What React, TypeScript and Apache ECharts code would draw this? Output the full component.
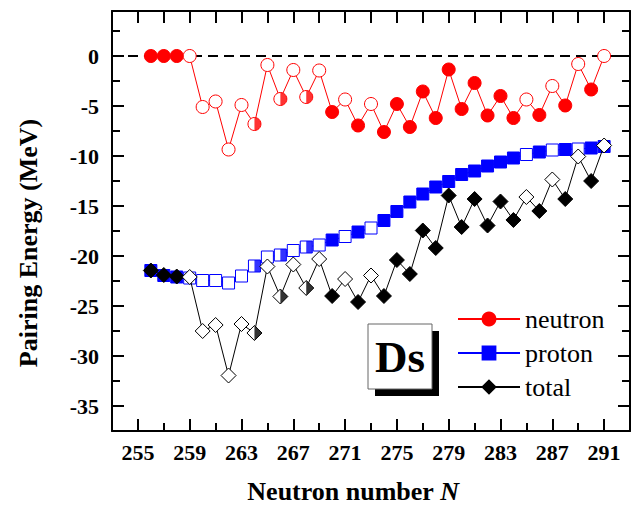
import React, { useEffect, useRef } from 'react';
import * as echarts from 'echarts';

const neutronNumbers = [256, 257, 258, 259, 260, 261, 262, 263, 264, 265, 266, 267, 268, 269, 270, 271, 272, 273, 274, 275, 276, 277, 278, 279, 280, 281, 282, 283, 284, 285, 286, 287, 288, 289, 290, 291];

const neutronPairing = [0, 0, 0, 0, -5.1, -4.55, -9.35, -4.9, -6.8, -0.9, -4.3, -1.4, -4.1, -1.45, -5.6, -4.35, -6.95, -4.8, -7.6, -4.8, -7.1, -3.55, -6.2, -1.35, -5.3, -2.7, -5.95, -4.0, -6.2, -4.35, -5.9, -3.0, -4.95, -0.8, -3.35, 0];
const protonPairing = [-21.45, -21.95, -22.1, -22.2, -22.45, -22.45, -22.7, -22.0, -21.0, -20.1, -19.9, -19.45, -19.1, -18.9, -18.4, -18.05, -17.6, -17.2, -16.45, -15.55, -14.6, -13.8, -13.1, -12.55, -11.85, -11.5, -11.0, -10.6, -10.2, -9.85, -9.6, -9.4, -9.35, -9.3, -9.2, -9.05];
const totalPairing = [-21.45, -21.9, -22.05, -22.1, -27.5, -26.9, -31.95, -26.8, -27.7, -21.05, -24.05, -20.85, -23.2, -20.3, -24.0, -22.3, -24.6, -21.95, -24.0, -20.4, -21.8, -17.45, -19.2, -13.95, -17.1, -14.3, -16.95, -14.55, -16.4, -14.1, -15.5, -12.35, -14.3, -10.05, -12.5, -8.95];

// f = filled, o = open, h = half filled (right half)
const neutronFill = ['f', 'f', 'f', 'o', 'o', 'o', 'o', 'o', 'h', 'o', 'h', 'o', 'h', 'o', 'f', 'o', 'f', 'o', 'f', 'f', 'f', 'f', 'f', 'f', 'f', 'f', 'f', 'f', 'f', 'o', 'f', 'o', 'f', 'o', 'f', 'o'];
const protonFill = ['f', 'f', 'f', 'o', 'o', 'o', 'o', 'o', 'h', 'o', 'h', 'o', 'h', 'o', 'f', 'o', 'f', 'o', 'f', 'f', 'f', 'f', 'f', 'f', 'f', 'f', 'f', 'f', 'f', 'o', 'f', 'o', 'f', 'o', 'f', 'f'];
const totalFill = ['f', 'f', 'f', 'o', 'o', 'o', 'o', 'o', 'h', 'o', 'h', 'o', 'h', 'o', 'f', 'o', 'f', 'o', 'f', 'f', 'f', 'f', 'f', 'f', 'f', 'f', 'f', 'f', 'f', 'o', 'f', 'o', 'f', 'o', 'f', 'o'];

const xLabelTicks = [255, 259, 263, 267, 271, 275, 279, 283, 287, 291];
const xMinorTicks = [257, 261, 265, 269, 273, 277, 281, 285, 289];
const xTopTicks = [255, 257, 259, 261, 263, 265, 267, 269, 271, 273, 275, 277, 279, 281, 283, 285, 287, 289, 291];
const yLabelTicks = [-35, -30, -25, -20, -15, -10, -5, 0];
const yMinorTicks = [-32.5, -27.5, -22.5, -17.5, -12.5, -7.5, -2.5, 2.5];
const zeroLine = [253, 293];

const SERIF = 'Liberation Serif';

function mainData(values: number[], fills: string[]) {
  return neutronNumbers.map((n, i) => {
    const item: any = { value: [n, values[i]] };
    if (fills[i] !== 'f') item.itemStyle = { color: '#ffffff' };
    return item;
  });
}
function halfData(values: number[], fills: string[]) {
  const out: number[][] = [];
  neutronNumbers.forEach((n, i) => {
    if (fills[i] === 'h') out.push([n, values[i]]);
  });
  return out;
}

export default function App() {
  const ref = useRef<HTMLDivElement>(null);
  useEffect(() => {
    if (!ref.current) return;
    const chart = echarts.init(ref.current, null, { renderer: 'svg' });
    const axisBase = {
      type: 'value',
      min: 253,
      max: 293,
      splitLine: { show: false },
    };
    const yBase = {
      type: 'value',
      min: -37.5,
      max: 4.5,
      splitLine: { show: false },
    };
    const lineAx = { show: true, onZero: false, lineStyle: { color: '#000', width: 2 } };
    const noLine = { show: false, onZero: false };
    const tickStyle = { color: '#000', width: 2 };

    chart.setOption({
      animation: false,
      textStyle: { fontFamily: SERIF },
      grid: { left: 112, right: 8, top: 11, bottom: 75, containLabel: false, outerBoundsMode: 'none' },
      xAxis: [
        {
          ...axisBase, position: 'bottom', axisLine: lineAx,
          axisTick: { show: true, inside: true, length: 12, lineStyle: tickStyle, customValues: xLabelTicks },
          axisLabel: {
            show: true, margin: 10, customValues: xLabelTicks,
            color: '#000', fontFamily: 'Times New Roman', fontWeight: 'bold', fontSize: 22,
          },
        },
        {
          ...axisBase, position: 'bottom', axisLine: noLine,
          axisTick: { show: true, inside: true, length: 8, lineStyle: tickStyle, customValues: xMinorTicks },
          axisLabel: { show: false },
        },
        {
          ...axisBase, position: 'top', axisLine: lineAx,
          axisTick: { show: true, inside: true, length: 12, lineStyle: tickStyle, customValues: xTopTicks },
          axisLabel: { show: false },
        },
      ],
      yAxis: [
        {
          ...yBase, position: 'left', axisLine: lineAx,
          axisTick: { show: true, inside: true, length: 12, lineStyle: tickStyle, customValues: yLabelTicks },
          axisLabel: {
            show: true, margin: 13, customValues: yLabelTicks,
            color: '#000', fontFamily: 'serif', fontWeight: 'bold', fontSize: 22,
          },
        },
        {
          ...yBase, position: 'left', axisLine: noLine,
          axisTick: { show: true, inside: true, length: 8, lineStyle: tickStyle, customValues: yMinorTicks },
          axisLabel: { show: false },
        },
        {
          ...yBase, position: 'right', axisLine: lineAx,
          axisTick: { show: true, inside: true, length: 12, lineStyle: tickStyle, customValues: yLabelTicks },
          axisLabel: { show: false },
        },
        {
          ...yBase, position: 'right', axisLine: noLine,
          axisTick: { show: true, inside: true, length: 8, lineStyle: tickStyle, customValues: yMinorTicks },
          axisLabel: { show: false },
        },
      ],
      legend: {
        data: ['neutron', 'proton', 'total'],
        orient: 'vertical',
        left: 452,
        top: 301,
        itemWidth: 62,
        itemHeight: 16,
        itemGap: 8,
        textStyle: { color: '#000', fontFamily: '"Liberation Serif", serif', fontSize: 26 },
        selectedMode: false,
      },
      graphic: [
        { type: 'rect', shape: { x: 375, y: 331, width: 64, height: 65 }, style: { fill: '#000' }, z: 10 },
        { type: 'rect', shape: { x: 368, y: 324, width: 64, height: 65 }, style: { fill: '#fff', stroke: '#666', lineWidth: 1 }, z: 11 },
        { type: 'text', x: 400, y: 357, style: { text: 'Ds', fontFamily: SERIF, fontWeight: 'bold', fontSize: 45, fill: '#000', textAlign: 'center', textVerticalAlign: 'middle' }, z: 12 },
        { type: 'text', x: 28, y: 243, rotation: Math.PI / 2, style: { text: 'Pairing Energy (MeV)', fontFamily: SERIF, fontWeight: 'bold', fontSize: 26, fill: '#000', textAlign: 'center', textVerticalAlign: 'middle' } },
        {
          type: 'text', x: 353, y: 491,
          style: {
            text: '{a|Neutron number }{b|N}',
            textAlign: 'center', textVerticalAlign: 'middle',
            rich: {
              a: { fontFamily: SERIF, fontWeight: 'bold', fontSize: 26, fill: '#000' },
              b: { fontFamily: SERIF, fontWeight: 'bold', fontStyle: 'italic', fontSize: 26, fill: '#000' },
            },
          },
        },
      ],
      series: [
        {
          name: 'zero', type: 'line', data: zeroLine.map((x) => [x, 0]), symbol: 'none', silent: true, z: 1,
          lineStyle: { color: '#000', width: 2, type: [10, 6] },
        },
        {
          name: 'neutron', type: 'line', data: mainData(neutronPairing, neutronFill), z: 2, silent: true,
          symbol: 'circle', symbolSize: 13,
          lineStyle: { color: '#ff0000', width: 1 },
          itemStyle: { color: '#ff0000', borderColor: '#ff0000', borderWidth: 1 },
        },
        {
          name: 'neutronHalf', type: 'scatter', data: halfData(neutronPairing, neutronFill), z: 3, silent: true,
          symbol: 'path://M0,0 A10,10 0 0 1 0,20 Z', symbolSize: [6.5, 13], symbolOffset: [3.25, 0],
          itemStyle: { color: '#ff0000' },
        },
        {
          name: 'proton', type: 'line', data: mainData(protonPairing, protonFill), z: 4, silent: true,
          symbol: 'rect', symbolSize: 12,
          lineStyle: { color: '#0000ff', width: 1 },
          itemStyle: { color: '#0000ff', borderColor: '#0000ff', borderWidth: 1 },
        },
        {
          name: 'protonHalf', type: 'scatter', data: halfData(protonPairing, protonFill), z: 5, silent: true,
          symbol: 'rect', symbolSize: [6, 12], symbolOffset: [3, 0],
          itemStyle: { color: '#0000ff' },
        },
        {
          name: 'total', type: 'line', data: mainData(totalPairing, totalFill), z: 6, silent: true,
          symbol: 'diamond', symbolSize: 15,
          lineStyle: { color: '#000000', width: 1 },
          itemStyle: { color: '#000000', borderColor: '#000000', borderWidth: 1 },
        },
        {
          name: 'totalHalf', type: 'scatter', data: halfData(totalPairing, totalFill), z: 7, silent: true,
          symbol: 'path://M0,0 L10,10 L0,20 Z', symbolSize: [7.5, 15], symbolOffset: [3.75, 0],
          itemStyle: { color: '#000000' },
        },
      ],
    });
    return () => chart.dispose();
  }, []);
  return <div ref={ref} style={{ position: 'absolute', left: 0, top: 0, width: 638, height: 506 }} />;
}
